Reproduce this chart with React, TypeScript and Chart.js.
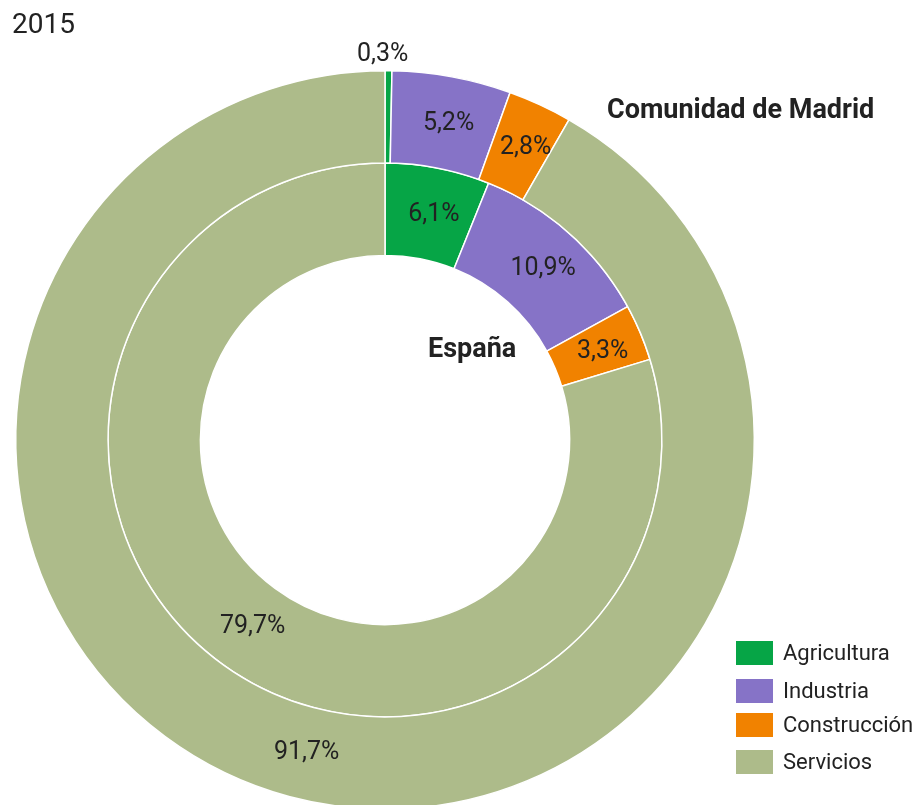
import React, { useEffect, useRef } from "react";
import { Chart, registerables } from "chart.js";

Chart.register(...registerables);

const categories = ["Agricultura", "Industria", "Construcción", "Servicios"];
const madridValues = [0.3, 5.2, 2.8, 91.7];
const espanaValues = [6.1, 10.9, 3.3, 79.7];
const colors = ["#06a546", "#8673c7", "#f18200", "#adbb8a"];
const yearLabel = "2015";
const seriesNames = ["Comunidad de Madrid", "España"];

const FONT = "Roboto, 'Liberation Sans', sans-serif";
const TEXT = "#222222";

const fmt = (v: number) => v.toFixed(1).replace(".", ",") + "%";

const labelPlugin = {
  id: "sliceLabels",
  afterDatasetsDraw(chart: any) {
    const ctx = chart.ctx;
    ctx.save();
    ctx.font = `25px ${FONT}`;
    ctx.fillStyle = TEXT;
    ctx.textAlign = "center";
    ctx.textBaseline = "middle";
    chart.data.datasets.forEach((ds: any, di: number) => {
      const meta = chart.getDatasetMeta(di);
      meta.data.forEach((arc: any, i: number) => {
        const p = arc.getProps(["x", "y", "startAngle", "endAngle", "innerRadius", "outerRadius"], true);
        const mid = (p.startAngle + p.endAngle) / 2;
        const v = ds.data[i];
        let r = (p.innerRadius + p.outerRadius) / 2;
        let dx = 5;
        let dy = 1;
        if (v < 1) {
          r = p.outerRadius + 17;
          dx = -6;
        }
        ctx.fillText(fmt(v), p.x + Math.cos(mid) * r + dx, p.y + Math.sin(mid) * r + dy);
      });
    });
    ctx.restore();
  },
};

export default function App() {
  const ref = useRef<HTMLCanvasElement | null>(null);

  useEffect(() => {
    if (!ref.current) return;
    const chart = new Chart(ref.current, {
      type: "doughnut",
      data: {
        labels: categories,
        datasets: [
          {
            label: seriesNames[0],
            data: madridValues,
            backgroundColor: colors,
            borderColor: "#ffffff",
            borderWidth: 1.5,
          },
          {
            label: seriesNames[1],
            data: espanaValues,
            backgroundColor: colors,
            borderColor: "#ffffff",
            borderWidth: 1.5,
          },
        ],
      },
      options: {
        responsive: false,
        animation: false,
        devicePixelRatio: 1,
        cutout: "50%",
        layout: { padding: { left: 15, right: 165, top: 70, bottom: 20 } },
        plugins: {
          legend: { display: false },
          tooltip: { enabled: false },
        },
      },
      plugins: [labelPlugin],
    });
    return () => chart.destroy();
  }, []);

  const legendTops = [641, 679, 713, 750];

  return (
    <div
      style={{
        position: "absolute",
        left: 0,
        top: 0,
        width: 920,
        height: 805,
        overflow: "hidden",
        background: "#ffffff",
        fontFamily: FONT,
        color: TEXT,
      }}
    >
      <canvas ref={ref} width={920} height={830} style={{ position: "absolute", left: 0, top: 0 }} />
      <div style={{ position: "absolute", left: 12, top: 10, fontSize: 28, lineHeight: "28px" }}>{yearLabel}</div>
      <div
        style={{ position: "absolute", left: 607, top: 96, fontSize: 27, lineHeight: "27px", fontWeight: 700, whiteSpace: "nowrap" }}
      >
        {seriesNames[0]}
      </div>
      <div
        style={{ position: "absolute", left: 428, top: 335, fontSize: 27, lineHeight: "27px", fontWeight: 700, whiteSpace: "nowrap" }}
      >
        {seriesNames[1]}
      </div>
      {categories.map((c, i) => (
        <div key={c}>
          <div
            style={{
              position: "absolute",
              left: 736,
              top: legendTops[i],
              width: 37,
              height: 24,
              background: colors[i],
            }}
          />
          <div
            style={{
              position: "absolute",
              left: 783,
              top: legendTops[i] + 1,
              fontSize: 22,
              lineHeight: "22px",
              whiteSpace: "nowrap",
            }}
          >
            {c}
          </div>
        </div>
      ))}
    </div>
  );
}
